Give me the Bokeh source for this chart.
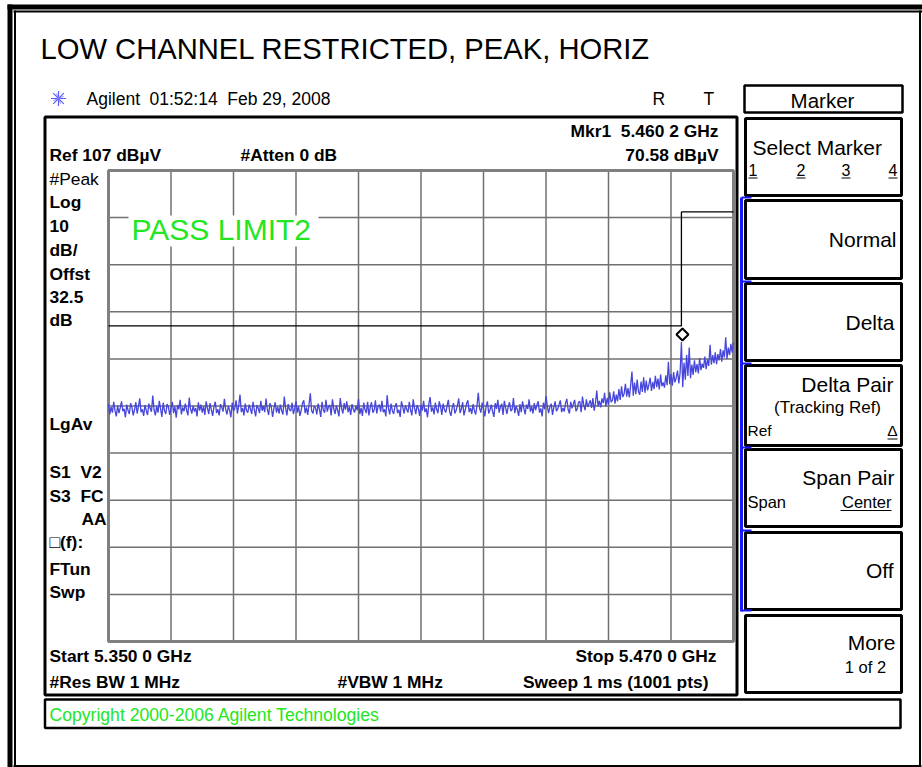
import numpy as np
from bokeh.plotting import figure
from bokeh.models import Range1d
from bokeh.core.properties import value
from bokeh.embed import file_html
from bokeh.resources import INLINE

start_ghz = 5.350
stop_ghz = 5.470
ref_level_dbuv = 107.0
db_per_div = 10.0

# peak trace, dBuV, one value every 0.25 MHz from 5.350 GHz to 5.470 GHz
trace_dbuv = [
    57.4, 55.2, 56.8, 55.6, 57.9, 56.0, 54.8, 57.1, 55.5, 56.6,
    58.0, 55.9, 56.4, 54.6, 57.3, 56.1, 55.3, 57.6, 56.7, 55.0,
    56.2, 57.8, 55.4, 56.9, 58.6, 55.7, 56.3, 54.9, 57.2, 56.0,
    55.1, 57.5, 56.5, 55.8, 59.2, 56.2, 55.0, 57.0, 55.6, 58.1,
    56.4, 54.7, 57.7, 56.0, 55.3, 57.4, 56.8, 55.1, 56.5, 57.9,
    55.5, 56.9, 54.5, 57.2, 56.3, 58.3, 55.2, 56.7, 55.9, 57.5,
    56.1, 55.0, 58.8, 56.4, 55.4, 57.1, 55.8, 56.6, 54.8, 57.8,
    56.0, 57.3, 55.6, 56.9, 55.1, 58.0, 56.5, 55.3, 57.6, 56.2,
    54.9, 56.8, 57.9, 55.5, 56.3, 55.0, 57.4, 56.7, 55.8, 58.5,
    56.3, 55.2, 57.0, 56.1, 54.6, 57.7, 55.9, 56.5, 58.2, 55.4,
    57.1, 59.4, 55.7, 56.6, 55.0, 57.5, 56.0, 55.6, 57.3, 56.4,
    55.3, 57.9, 56.2, 54.8, 57.2, 56.5, 55.5, 58.1, 56.0, 57.0,
    55.7, 58.6, 56.3, 55.1, 57.6, 56.9, 54.7, 56.4, 57.8, 55.6,
    56.8, 55.4, 57.3, 56.0, 55.2, 59.0, 56.6, 55.0, 57.4, 56.2,
    55.9, 57.7, 55.3, 56.5, 58.0, 55.6, 56.9, 54.9, 56.1, 57.6,
    58.2, 55.5, 56.7, 55.1, 57.3, 59.7, 56.0, 55.4, 57.0, 56.6,
    55.2, 57.5, 56.3, 54.7, 57.9, 56.1, 55.6, 58.3, 55.8, 56.9,
    57.2, 55.0, 58.4, 56.4, 55.3, 57.1, 56.0, 54.8, 58.7, 56.5,
    55.4, 57.6, 56.2, 58.0, 55.7, 56.8, 55.1, 57.4, 56.3, 55.6,
    57.0, 56.1, 58.5, 55.3, 56.6, 54.9, 57.7, 56.2, 55.5, 57.9,
    55.0, 56.7, 57.8, 55.6, 56.1, 58.2, 55.4, 56.9, 57.3, 55.8,
    58.1, 55.7, 56.3, 54.8, 59.3, 56.5, 55.2, 57.5, 56.0, 55.3,
    56.9, 57.6, 55.5, 56.2, 54.7, 58.0, 56.8, 55.4, 57.1, 56.3,
    55.6, 57.9, 56.1, 55.0, 58.4, 56.6, 55.3, 57.2, 56.4, 54.9,
    57.3, 56.0, 58.1, 55.7, 56.5, 54.6, 57.4, 58.9, 55.8, 56.7,
    55.2, 57.7, 56.3, 55.5, 58.0, 56.9, 55.1, 57.5, 56.2, 55.6,
    57.0, 58.3, 55.8, 54.9, 56.7, 57.6, 55.4, 56.1, 57.2, 58.6,
    55.5, 56.4, 57.8, 55.0, 56.2, 57.5, 58.2, 55.7, 56.6, 55.3,
    57.4, 56.0, 55.2, 57.1, 59.8, 56.5, 55.6, 57.7, 56.3, 54.8,
    56.9, 58.0, 55.4, 56.2, 57.3, 55.8, 54.7, 57.6, 56.4, 58.3,
    55.6, 56.8, 57.5, 55.1, 58.1, 56.6, 55.3, 56.9, 57.8, 55.9,
    56.3, 58.7, 55.5, 57.0, 56.2, 54.9, 57.4, 55.7, 58.0, 56.5,
    55.2, 57.3, 56.4, 58.4, 55.8, 56.9, 55.4, 57.6, 56.1, 57.2,
    58.0, 55.6, 56.5, 54.8, 57.7, 56.3, 59.1, 57.0, 55.5, 56.8,
    57.5, 55.1, 56.7, 58.0, 55.9, 56.4, 57.3, 58.2, 55.7, 56.6,
    55.8, 57.6, 58.5, 56.2, 55.4, 57.9, 56.5, 57.4, 58.3, 55.9,
    56.4, 57.8, 58.0, 55.7, 59.0, 57.2, 56.1, 58.4, 56.8, 57.5,
    58.2, 56.6, 58.7, 56.0, 57.6, 60.3, 56.9, 58.1, 56.7, 58.6,
    57.6, 59.8, 56.9, 58.7, 57.3, 59.9, 57.8, 58.2, 60.1, 57.5,
    59.4, 58.0, 60.6, 58.3, 61.2, 58.9, 59.6, 61.7, 59.0, 60.8,
    58.8, 61.3, 64.3, 59.2, 62.0, 59.5, 62.6, 60.1, 59.4, 62.2,
    60.0, 63.1, 59.8, 62.4, 60.3, 61.5, 63.0, 60.2, 62.1, 60.6,
    63.4, 61.0, 62.8, 60.5, 63.7, 61.2, 62.0, 60.9, 63.5, 61.4,
    66.4, 61.6, 63.8, 61.3, 64.2, 62.0, 63.0, 64.5, 61.8, 64.0,
    70.6,
    61.0, 66.2, 62.6, 67.8, 63.4, 69.4, 62.9, 65.8, 63.6, 66.7,
    64.2, 65.9, 63.9, 67.2, 64.6, 66.0, 65.1, 67.5, 64.8, 66.9,
    65.5, 70.0, 65.8, 67.8, 66.1, 68.4, 65.9, 68.0, 66.7, 69.1,
    66.4, 68.8, 67.3, 71.6, 67.0, 69.4, 67.8, 70.2, 68.3, 70.5,
]

limit_ghz = [5.350, 5.460, 5.460, 5.470]
limit_dbuv = [74.0, 74.0, 98.2, 98.2]

marker_ghz = [5.4602]
marker_dbuv = [70.58]

# ---------------- texts ----------------
NB = "\u00a0"
title_text = "LOW CHANNEL RESTRICTED, PEAK, HORIZ"
left_labels = ["#Peak", "Log", "10", "dB/", "Offst", "32.5", "dB", "LgAv",
               "S1" + NB + NB + "V2", "S3" + NB + NB + "FC", "AA", "\u25a1(f):", "FTun", "Swp"]
softkeys = ["Select Marker", "Normal", "Delta", "Delta Pair", "Span Pair", "Off", "More"]

# ---------------- layout (screen pixels of the capture) ----------------
W, H = 922, 767
GX0, GX1, GY0, GY1 = 108, 733, 170, 641  # graticule box

kx = (stop_ghz - start_ghz) / (GX1 - GX0)
ky = (10 * db_per_div) / (GY1 - GY0)
fr = Range1d(start_ghz - GX0 * kx, start_ghz + (W - GX0) * kx)
ar = Range1d(ref_level_dbuv - (H - GY0) * ky, ref_level_dbuv + GY0 * ky)

p = figure(width=W, height=H, x_range=Range1d(0, W), y_range=Range1d(H, 0),
           x_axis_type=None, y_axis_type=None, toolbar_location=None,
           output_backend="svg", min_border=0, title=None,
           outline_line_color=None, background_fill_color="white",
           border_fill_color="white")
p.extra_x_ranges = {"freq": fr}
p.extra_y_ranges = {"amp": ar}

FONT = value("Liberation Sans")


def T(x, base, s, size, bold=False, align="left", color="black"):
    # rendered text is centred on y, so place its centre above the wanted baseline
    p.text(x=[x], y=[base - 0.36 * size], text=[s], text_font=FONT,
           text_font_size=f"{size}px", text_font_style="bold" if bold else "normal",
           text_align=align, text_baseline="alphabetic", text_color=color)


def box(l, r, t, b, w=3, color="black"):
    p.quad(left=[l], right=[r], top=[t], bottom=[b], fill_color=None,
           line_color=color, line_width=w)


def seg(xa, ya, xb, yb, w=1, color="black"):
    p.segment(x0=[xa], y0=[ya], x1=[xb], y1=[yb], line_color=color, line_width=w)


# page frame
seg(9.5, 4, 9.5, 770, 5)
seg(7, 6.5, 930, 6.5, 5)
seg(14.5, 10, 14.5, 770, 2)
seg(13, 11, 930, 11, 2)
seg(919.5, 10, 919.5, 770, 2)
seg(13, 765.5, 921, 765.5, 2)

# title
T(40, 59, title_text, 29.2)

# status line
p.scatter(x=[58], y=[98], marker="asterisk", size=15, line_color="#5a5aff", line_width=1.2)
p.scatter(x=[58], y=[98], marker="cross", size=11, angle=np.pi / 8, line_color="#8a8aff", line_width=1)
T(86, 105, "Agilent", 17.5)
T(149, 105, "01:52:14" + NB + NB + "Feb 29, 2008", 17.5)
T(652, 105, "R", 17.5)
T(703, 105, "T", 17.5)

# display box and copyright box
box(44.5, 736.5, 116.5, 694.5, 3)
box(44.5, 900, 699, 727.5, 2.5)
T(49, 721, "Copyright 2000-2006 Agilent Technologies", 17.6, color="#22e622")

# graticule
grid_f = np.linspace(start_ghz, stop_ghz, 11)
grid_a = ref_level_dbuv - db_per_div * np.arange(11)
a_lo, a_hi = grid_a[-1], grid_a[0]
p.segment(x0=grid_f[1:-1], y0=[a_lo] * 9, x1=grid_f[1:-1], y1=[a_hi] * 9,
          x_range_name="freq", y_range_name="amp", line_color="#707070", line_width=1.5)
p.segment(x0=[start_ghz] * 9, y0=grid_a[1:-1], x1=[stop_ghz] * 9, y1=grid_a[1:-1],
          x_range_name="freq", y_range_name="amp", line_color="#707070", line_width=1.5)
p.quad(left=[start_ghz], right=[stop_ghz], top=[a_hi], bottom=[a_lo], fill_color=None,
       line_color="#808080", line_width=3, x_range_name="freq", y_range_name="amp")

# PASS LIMIT2 label background
p.quad(left=[128], right=[318], top=[215], bottom=[246], fill_color="white", line_color=None)

# limit line
p.line(x=limit_ghz, y=limit_dbuv, x_range_name="freq", y_range_name="amp",
       line_color="black", line_width=1.3)

# trace
freqs = np.linspace(start_ghz, stop_ghz, len(trace_dbuv))
p.line(x=freqs, y=trace_dbuv, x_range_name="freq", y_range_name="amp",
       line_color="#4646dc", line_width=1.3)

# marker diamond (drawn just above the marked point)
p.scatter(x=marker_ghz, y=[v + 7.5 * ky for v in marker_dbuv], marker="square",
          angle=np.pi / 4, size=8.5, fill_color="white", line_color="black",
          line_width=2, x_range_name="freq", y_range_name="amp")

T(131, 240, "PASS LIMIT2", 30, color="#22e622")

# annotations in display
B = 17.4
T(718, 137, "Mkr1" + NB + NB + "5.460 2 GHz", B, True, "right")
T(49, 161, "Ref 107 dB\u00b5V", B, True)
T(240, 161, "#Atten 0 dB", B, True)
T(718, 161, "70.58 dB\u00b5V", B, True, "right")
left_base = [185, 208, 232, 256, 280, 303, 326, 430, 478, 502, 525, 548, 575, 598]
for s, yb in zip(left_labels, left_base):
    if s == "AA":
        T(106, yb, s, B, True, "right")
    else:
        T(49, yb, s, B, s != "#Peak")
T(49, 662, f"Start {start_ghz:.3f} 0 GHz", B, True)
T(716, 662, f"Stop {stop_ghz:.3f} 0 GHz", B, True, "right")
T(49, 688, "#Res BW 1 MHz", B, True)
T(337, 688, "#VBW 1 MHz", B, True)
T(708, 688, "Sweep 1 ms (1001 pts)", B, True, "right")

# softkey panel
box(744, 902, 85, 112, 2.5)
T(822, 107, "Marker", 20.5, align="center")
key_boxes = [(118, 195), (200, 278), (283, 360), (365, 445), (449, 526), (532, 609), (615, 692)]
for (t, b) in key_boxes:
    box(745, 901, t, b, 3)
seg(741, 197, 741, 611, 3, "#1a1aff")
for yt in [197, 281, 363, 447, 530, 610]:
    seg(741, yt, 751, yt, 2, "#1a1aff")

K = 21
T(752, 155, softkeys[0], K)
for xd, d, al in [(748, "1", "left"), (796, "2", "left"), (841, "3", "left"), (897, "4", "right")]:
    T(xd, 175, d, 16, align=al)
    xl = xd if al == "left" else xd - 9
    seg(xl, 177.5, xl + 9, 177.5, 1)
T(896, 247, softkeys[1], K, align="right")
T(894, 330, softkeys[2], K, align="right")
T(893, 392, softkeys[3], K, align="right")
T(827, 413, "(Tracking Ref)", 17, align="center")
T(747, 436, "Ref", 15.5)
T(897, 436, "\u0394", 15.5, align="right")
seg(887, 438.5, 897, 438.5, 1)
T(894, 485, softkeys[4], K, align="right")
T(747, 507, "Span", 16.5)
T(891, 507, "Center", 16.5, align="right")
seg(840, 510, 891, 510, 1)
T(893, 578, softkeys[5], K, align="right")
T(895, 650, softkeys[6], K, align="right")
T(865, 672, "1 of 2", 16.5, align="center")

open("out.html", "w").write(file_html(p, INLINE))
